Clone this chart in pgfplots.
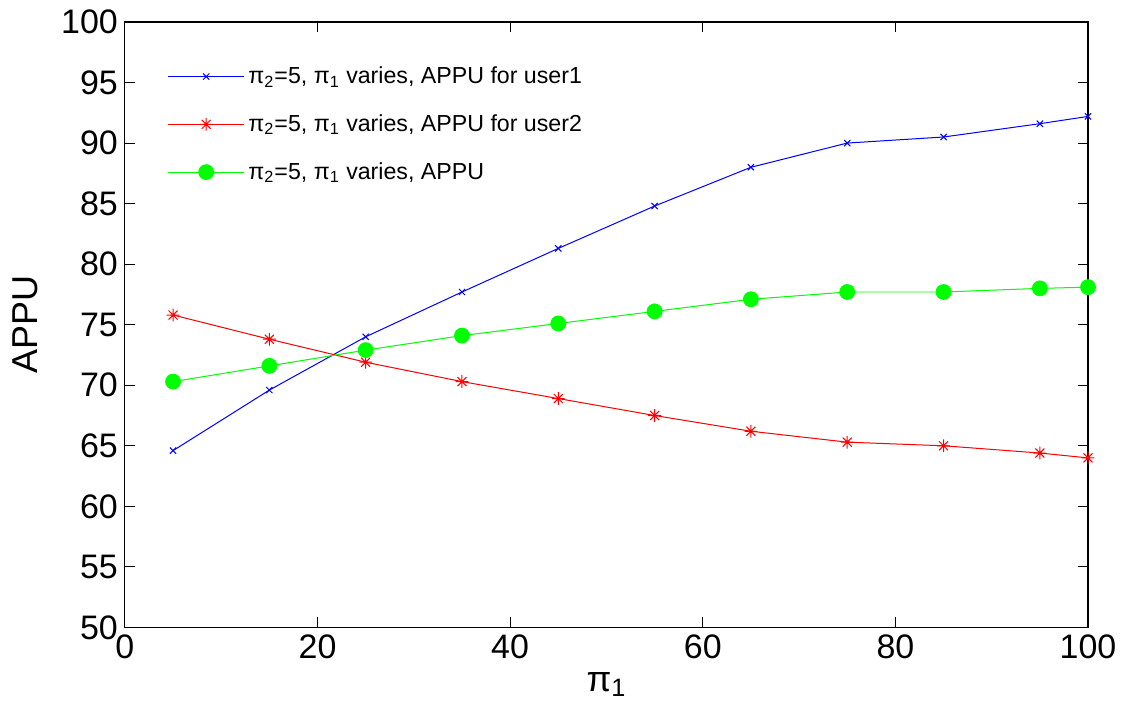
\documentclass[border=0pt]{standalone}
\usepackage{fontspec}
\setmainfont{Liberation Sans}
\usepackage{pgfplots}
\pgfplotsset{compat=1.18}
\definecolor{mgreen}{RGB}{0,255,0}
% MATLAB-style '*' marker: eight arms
\pgfdeclareplotmark{mstar}{%
  \pgfpathmoveto{\pgfqpoint{0pt}{\pgfplotmarksize}}\pgfpathlineto{\pgfqpoint{0pt}{-\pgfplotmarksize}}%
  \pgfpathmoveto{\pgfqpoint{\pgfplotmarksize}{0pt}}\pgfpathlineto{\pgfqpoint{-\pgfplotmarksize}{0pt}}%
  \pgfpathmoveto{\pgfqpoint{0.7\pgfplotmarksize}{0.7\pgfplotmarksize}}\pgfpathlineto{\pgfqpoint{-0.7\pgfplotmarksize}{-0.7\pgfplotmarksize}}%
  \pgfpathmoveto{\pgfqpoint{-0.7\pgfplotmarksize}{0.7\pgfplotmarksize}}\pgfpathlineto{\pgfqpoint{0.7\pgfplotmarksize}{-0.7\pgfplotmarksize}}%
  \pgfusepathqstroke}

\begin{document}
\begin{tikzpicture}
\begin{axis}[
  name=ax,
  scale only axis,
  width=482pt, height=303pt,
  xmin=0, xmax=100, ymin=50, ymax=100,
  xtick={0,20,...,100}, ytick={50,55,...,100},
  tick align=inside, major tick length=5pt,
  tick style={black, line width=0.4pt},
  axis line style={line width=0.6pt},
  /pgf/number format/assume math mode=true,
  ticklabel style={font=\fontsize{17}{19}\selectfont},
  xlabel={π\textsubscript{1}}, ylabel={APPU},
  label style={font=\fontsize{18}{20}\selectfont},
  xlabel style={yshift=0pt},
  ylabel style={yshift=5pt},
  legend style={draw=none, fill=none, at={(0.038,0.94)}, anchor=north west,
    font=\fontsize{11.6}{14}\selectfont, row sep=10pt},
  legend cell align=left,
  legend image code/.code={
    \draw[#1] (0cm,0cm) -- (1.33cm,0cm);
    \draw[#1, only marks] plot coordinates {(0.665cm,0cm)};
  },
]
\addplot[blue, line width=0.5pt, mark=x, mark size=2.2pt] coordinates {
  (5,64.6) (15,69.6) (25,74.0) (35,77.7) (45,81.3) (55,84.8)
  (65,88.0) (75,90.0) (85,90.5) (95,91.6) (100,92.2)
};
\addlegendentry{π\textsubscript{2}=5, π\textsubscript{1} varies, APPU for user1}
\addplot[red, line width=0.5pt, mark=mstar, mark size=3.2pt] coordinates {
  (5,75.8) (15,73.8) (25,71.9) (35,70.3) (45,68.9) (55,67.5)
  (65,66.2) (75,65.3) (85,65.0) (95,64.4) (100,64.0)
};
\addlegendentry{π\textsubscript{2}=5, π\textsubscript{1} varies, APPU for user2}
\addplot[mgreen, line width=0.5pt, mark=*, mark size=3.7pt, mark options={fill=mgreen, draw=mgreen}] coordinates {
  (5,70.3) (15,71.6) (25,72.9) (35,74.1) (45,75.1) (55,76.1)
  (65,77.1) (75,77.7) (85,77.7) (95,78.0) (100,78.1)
};
\addlegendentry{π\textsubscript{2}=5, π\textsubscript{1} varies, APPU}
\end{axis}
\useasboundingbox ([shift={(-62.5pt,-45.5pt)}]ax.south west) rectangle ([shift={(16.5pt,11pt)}]ax.north east);
\end{tikzpicture}
\end{document}
